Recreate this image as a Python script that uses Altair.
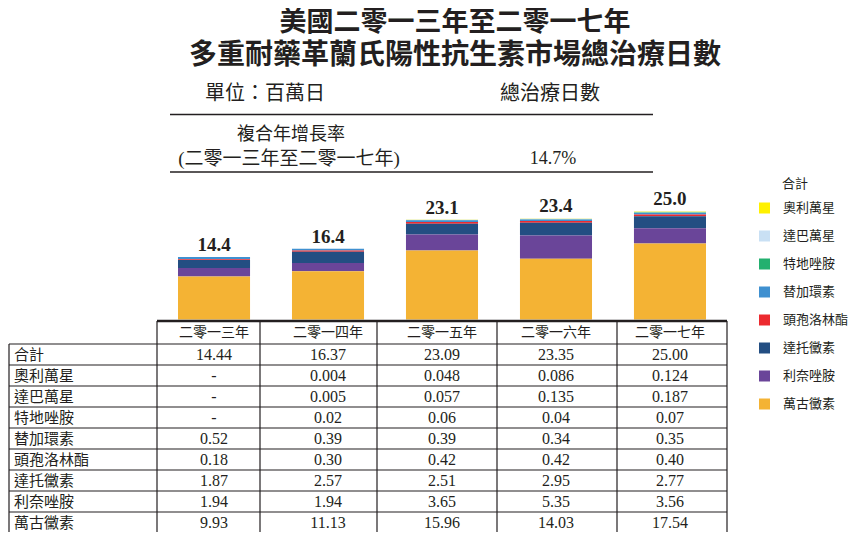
import altair as alt
import pandas as pd

# ---------------- data ----------------
years = ["二零一三年", "二零一四年", "二零一五年", "二零一六年", "二零一七年"]
totals = [14.44, 16.37, 23.09, 23.35, 25.00]
oritavancin = [None, 0.004, 0.048, 0.086, 0.124]   # 奧利萬星
dalbavancin = [None, 0.005, 0.057, 0.135, 0.187]   # 達巴萬星
tedizolid = [None, 0.02, 0.06, 0.04, 0.07]         # 特地唑胺
tigecycline = [0.52, 0.39, 0.39, 0.34, 0.35]       # 替加環素
ceftaroline = [0.18, 0.30, 0.42, 0.42, 0.40]       # 頭孢洛林酯
daptomycin = [1.87, 2.57, 2.51, 2.95, 2.77]        # 達托黴素
linezolid = [1.94, 1.94, 3.65, 5.35, 3.56]         # 利奈唑胺
vancomycin = [9.93, 11.13, 15.96, 14.03, 17.54]    # 萬古黴素

series_names = ["奧利萬星", "達巴萬星", "特地唑胺", "替加環素",
                "頭孢洛林酯", "達托黴素", "利奈唑胺", "萬古黴素"]
series_values = [oritavancin, dalbavancin, tedizolid, tigecycline,
                 ceftaroline, daptomycin, linezolid, vancomycin]
series_decimals = [3, 3, 2, 2, 2, 2, 2, 2]
series_colors = ["#FFF100", "#C9E0F4", "#23B06F", "#3F90D0",
                 "#EC2A2F", "#234E82", "#6A4599", "#F4B334"]

total_row_name = "合計"
cagr_value = "14.7%"

# ---------------- styles ----------------
INK = "#231F20"
FONT = "Liberation Serif, Noto Sans CJK TC"
CJK = "Noto Sans CJK TC"

# ---------------- tables for the library ----------------
n = len(series_names)
bar_rows = []
for k, (name, vals) in enumerate(zip(series_names, series_values)):
    for yr, v in zip(years, vals):
        bar_rows.append({"year": yr, "drug": name,
                         "value": 0.0 if v is None else v,
                         "stack": n - 1 - k})
bar_df = pd.DataFrame(bar_rows)

total_df = pd.DataFrame({"year": years, "total": totals,
                         "label": [f"{t:.1f}" for t in totals]})

table_rows = [total_row_name] + series_names
tab = []
for yr, t in zip(years, totals):
    tab.append({"year": yr, "row": total_row_name, "text": f"{t:.2f}"})
for name, vals, d in zip(series_names, series_values, series_decimals):
    for yr, v in zip(years, vals):
        tab.append({"year": yr, "row": name,
                    "text": "-" if v is None else f"{v:.{d}f}"})
table_df = pd.DataFrame(tab)
rowlabel_df = pd.DataFrame({"row": table_rows})
header_df = pd.DataFrame({"year": years})
one = pd.DataFrame({"k": [0]})

# ---------------- scales ----------------
xscale = alt.Scale(domain=years, range=[170, 698], paddingInner=0.368, paddingOuter=0)
X = alt.X("year:N", scale=xscale, axis=None, sort=years)
yscale = alt.Scale(domain=[0, 25], range=[311.5, 311.5 - 4.33 * 25], nice=False, zero=True)
rowscale = alt.Scale(domain=table_rows, range=[336, 525], paddingInner=0, paddingOuter=0)

bars = alt.Chart(bar_df).mark_bar().encode(
    x=X,
    y=alt.Y("value:Q", stack="zero", scale=yscale, axis=None),
    color=alt.Color("drug:N",
                    scale=alt.Scale(domain=series_names, range=series_colors),
                    legend=alt.Legend(orient="none", legendX=750, legendY=193.5,
                                      title=None, symbolType="square",
                                      symbolSize=121, symbolStrokeWidth=0,
                                      labelFontSize=13, labelFont=CJK,
                                      labelColor=INK, rowPadding=14,
                                      labelOffset=12, padding=0)),
    order=alt.Order("stack:Q", sort="ascending"),
)

bar_labels = alt.Chart(total_df).mark_text(
    baseline="alphabetic", dy=-6, fontSize=19, fontWeight="bold",
    font="Liberation Serif", color=INK
).encode(x=X, y=alt.Y("total:Q", scale=yscale, axis=None), text="label:N")

header = alt.Chart(header_df).mark_text(
    fontSize=14, font=CJK, color=INK, baseline="middle"
).encode(x=X, y=alt.value(324.5), text="year:N")

cells = alt.Chart(table_df).mark_text(
    fontSize=16, font="Liberation Serif", color=INK, baseline="middle"
).encode(x=X, y=alt.Y("row:N", scale=rowscale, axis=None), text="text:N")

row_labels = alt.Chart(rowlabel_df).mark_text(
    fontSize=15, font=CJK, color=INK, align="left", baseline="middle"
).encode(x=alt.value(6), y=alt.Y("row:N", scale=rowscale, axis=None), text="row:N")


def label(text, x, y, size, align="center", weight="normal", font=FONT, baseline="middle"):
    return alt.Chart(one).mark_text(
        text=text, align=align, baseline=baseline, fontSize=size,
        fontWeight=weight, font=font, color=INK
    ).encode(x=alt.value(x), y=alt.value(y))


def hline(y, x1, x2, w=1.0):
    return alt.Chart(one).mark_rule(color=INK, strokeWidth=w).encode(
        x=alt.value(x1), x2=alt.value(x2), y=alt.value(y))


def vline(x, y1, y2, w=1.0):
    return alt.Chart(one).mark_rule(color=INK, strokeWidth=w).encode(
        x=alt.value(x), y=alt.value(y1), y2=alt.value(y2))


texts = [
    label("美國二零一三年至二零一七年", 447, 15, 27, weight="bold", font=CJK),
    label("多重耐藥革蘭氏陽性抗生素市場總治療日數", 447, 48, 28, weight="bold", font=CJK),
    label("單位：百萬日", 197, 86, 20, align="left", font=CJK),
    label("總治療日數", 492, 86, 20, align="left", font=CJK),
    label("複合年增長率", 283, 127, 18, font=CJK),
    label("(二零一三年至二零一七年)", 281, 151, 19),
    label(cagr_value, 545, 151, 18, font="Liberation Serif"),
    label(total_row_name, 774, 176, 13, align="left", font=CJK),
]

lines = [hline(106.5, 162, 645, 1.5), hline(164, 162, 645, 1.5),
         hline(313, 149, 719, 2.5)]
for i in range(10):
    lines.append(hline(336 + 21 * i, 1, 719, 1.2))
lines.append(vline(1, 336, 525, 1.2))
for vx in [149, 252, 369, 489, 609, 719]:
    lines.append(vline(vx, 313, 525, 1.2))

chart = alt.layer(bars, bar_labels, header, cells, row_labels, *texts, *lines).resolve_scale(
    y="independent"
).properties(
    width=843, height=524, autosize="none", padding=0
).configure_view(stroke=None)

chart.save("out.html", embed_options={"renderer": "svg", "actions": False})
